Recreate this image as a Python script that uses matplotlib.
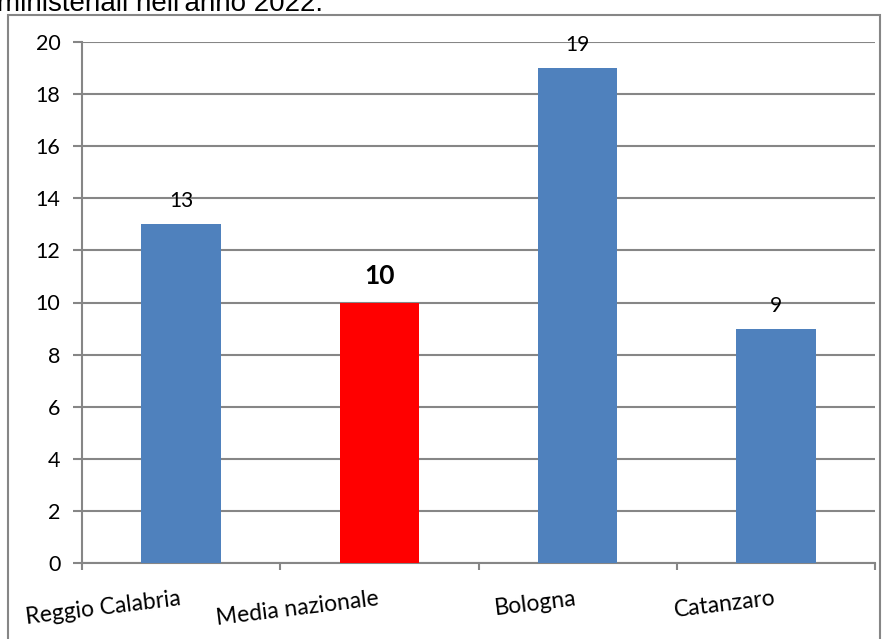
import numpy as np
from matplotlib import pyplot as plt
from matplotlib.patches import Rectangle

# dati
categorie = ['Reggio Calabria', 'Media nazionale', 'Bologna', 'Catanzaro']
valori = [13, 10, 19, 9]
colori = ['#4F81BD', '#FF0000', '#4F81BD', '#4F81BD']
yticks = [0, 2, 4, 6, 8, 10, 12, 14, 16, 18, 20]

plt.rcParams['font.family'] = ['Lato', 'DejaVu Sans']

fig = plt.figure(figsize=(8.89, 6.39), dpi=100)
ax = fig.add_axes([82/889, 1-563/639, 793/889, (563-42)/639])

x = np.arange(len(categorie))
ax.bar(x, valori, width=0.4, color=colori, zorder=3)

# etichette valori
for i, v in enumerate(valori):
    if categorie[i] == 'Media nazionale':
        ax.text(i, v + 0.55, str(v), ha='center', va='bottom', fontsize=19, fontweight='bold')
    else:
        ax.text(i, v + 0.5, str(v), ha='center', va='bottom', fontsize=15)

ax.set_xlim(-0.5, len(categorie) - 0.5)
ax.set_ylim(0, 20)
ax.set_yticks(yticks)
ax.yaxis.grid(True, color='#868686', linewidth=1.5, zorder=0)

ax.set_xticks(np.arange(len(categorie) + 1) - 0.5)
ax.set_xticklabels([])
ax.set_xticks(x, minor=True)
ax.set_xticklabels(categorie, minor=True, rotation=7, fontsize=16.5,
                   ha='right', va='baseline', rotation_mode='anchor')
ax.tick_params(axis='x', which='minor', length=0, pad=30)
ax.tick_params(axis='x', which='major', length=5, width=1.5, color='#868686')
ax.tick_params(axis='y', length=6.5, width=1.5, color='#868686', labelsize=15.5, pad=9)

for s in ['top', 'right']:
    ax.spines[s].set_visible(False)
for s in ['left', 'bottom']:
    ax.spines[s].set_color('#868686')
    ax.spines[s].set_linewidth(1.5)

# cornice esterna
fig.patches.append(Rectangle((8/889, -0.1), 872/889, 1.1 - 15/639, transform=fig.transFigure,
                             fill=False, edgecolor='#868686', linewidth=1.5))

# testo in alto (tagliato come nell'originale)
fig.text(-3/889, 1 - 11/639, "ministeriali nell'anno 2022.", fontsize=20,
         family='Liberation Sans', va='baseline', ha='left')

plt.savefig('out.png', dpi=100)
